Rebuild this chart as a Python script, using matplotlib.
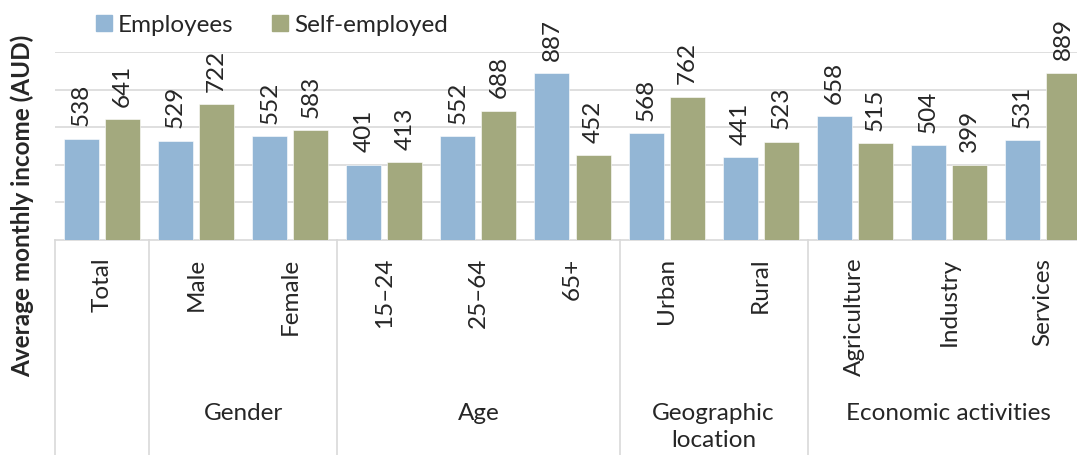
import matplotlib
matplotlib.use('Agg')
import matplotlib.pyplot as plt
import numpy as np
from matplotlib.patches import Patch

categories = ['Total', 'Male', 'Female', '15–24', '25–64', '65+',
              'Urban', 'Rural', 'Agriculture', 'Industry', 'Services']
employees = [538, 529, 552, 401, 552, 887, 568, 441, 658, 504, 531]
self_employed = [641, 722, 583, 413, 688, 452, 762, 523, 515, 399, 889]
groups = ['', 'Gender', 'Age', 'Geographic\nlocation', 'Economic activities']
group_starts = [0, 1, 3, 6, 8, 11]

BLUE = '#93b6d5'
GREEN = '#a3a97e'
GRID = '#d9d9d9'
TXT = '#262626'
FS = 17.5

plt.rcParams['font.family'] = ['Lato', 'DejaVu Sans']

fig = plt.figure(figsize=(10.77, 4.55), dpi=100)
ax = fig.add_axes([55 / 1077, 215 / 455, 1035 / 1077, 188 / 455])

x = np.arange(len(categories))
w = 0.372
off = 0.218
b1 = ax.bar(x - off, employees, w, color=BLUE, edgecolor='white', linewidth=0.4, zorder=3)
b2 = ax.bar(x + off, self_employed, w, color=GREEN, edgecolor='white', linewidth=0.4, zorder=3)

for bars in (b1, b2):
    for r in bars:
        ax.annotate(f'{r.get_height():.0f}', (r.get_x() + r.get_width() / 2, r.get_height()),
                    xytext=(0, 9), textcoords='offset points', rotation=90,
                    ha='center', va='bottom', fontsize=FS, color=TXT, annotation_clip=False)

ax.set_xlim(-0.5, len(categories) - 0.5)
ax.set_ylim(0, 1000)
ax.set_yticks([200, 400, 600, 800, 1000])
ax.set_yticklabels([])
ax.tick_params(axis='y', length=0)
ax.yaxis.grid(True, color=GRID, linewidth=1.2, zorder=0)
for s in ['top', 'right', 'left']:
    ax.spines[s].set_visible(False)
ax.spines['bottom'].set_color(GRID)
ax.spines['bottom'].set_linewidth(1.2)

ax.set_xticks(x)
ax.set_xticklabels([])
ax.tick_params(axis='x', length=0)

trans = ax.get_xaxis_transform()
for i, c in enumerate(categories):
    ax.text(i, -0.095, c, transform=trans, rotation=90, ha='center', va='top',
            fontsize=FS, color=TXT)

for k, g in enumerate(groups):
    a, b = group_starts[k], group_starts[k + 1]
    ax.text((a + b - 1) / 2, -0.865, g, transform=trans, ha='center', va='top',
            fontsize=FS, color=TXT, linespacing=1.38)

for s in group_starts[:-1]:
    ax.plot([s - 0.5, s - 0.5], [0, -1.3], transform=trans, color=GRID,
            linewidth=1.2, clip_on=False)

fig.text(22 / 1077, 1 - 206 / 455, 'Average monthly income (AUD)', rotation=90,
         ha='center', va='center', fontsize=FS, fontweight='bold', color=TXT)

handles = [Patch(color=BLUE, label='Employees'), Patch(color=GREEN, label='Self-employed')]
fig.legend(handles=handles, loc='center left', bbox_to_anchor=(96 / 1077, 1 - 25 / 455),
           ncol=2, frameon=False, fontsize=FS, handlelength=0.65, handleheight=0.6,
           handletextpad=0.25, columnspacing=1.6, labelcolor=TXT, borderaxespad=0,
           borderpad=0)

fig.savefig('out.png', dpi=100)
